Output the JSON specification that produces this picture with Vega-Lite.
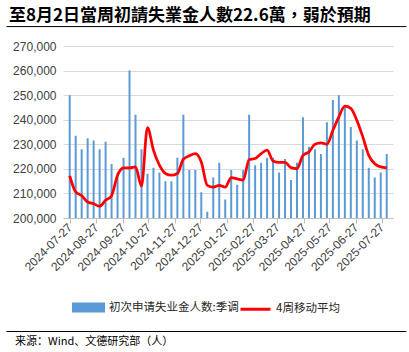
{
  "$schema": "https://vega.github.io/schema/vega-lite/v6.json",
  "width": 330,
  "height": 172,
  "autosize": {"type": "none"},
  "padding": {"left": 63, "top": 46, "right": 16, "bottom": 134},
  "background": "white",
  "title": {
    "text": "至8月2日當周初請失業金人數22.6萬，弱於預期",
    "anchor": "start",
    "frame": "group",
    "dx": -54,
    "offset": 1,
    "font": "Noto Sans CJK TC",
    "fontSize": 17,
    "fontWeight": "bold",
    "color": "#000000"
  },
  "config": {"view": {"stroke": null}, "font": "Liberation Sans"},
  "resolve": {"axis": {"x": "independent", "y": "independent"}},
  "data": {
    "values": [
      {"date": "2024/07/27", "claims": 250000, "ma4": 217100},
      {"date": "2024/08/03", "claims": 233500, "ma4": 210600},
      {"date": "2024/08/10", "claims": 228000, "ma4": 209100},
      {"date": "2024/08/17", "claims": 232500, "ma4": 206500},
      {"date": "2024/08/24", "claims": 231500, "ma4": 205800},
      {"date": "2024/08/31", "claims": 228000, "ma4": 204800},
      {"date": "2024/09/07", "claims": 231000, "ma4": 207200},
      {"date": "2024/09/14", "claims": 222000, "ma4": 209100},
      {"date": "2024/09/21", "claims": 218500, "ma4": 217400},
      {"date": "2024/09/28", "claims": 224500, "ma4": 220400},
      {"date": "2024/10/05", "claims": 260000, "ma4": 220400},
      {"date": "2024/10/12", "claims": 242000, "ma4": 220800},
      {"date": "2024/10/19", "claims": 228000, "ma4": 213000},
      {"date": "2024/10/26", "claims": 218000, "ma4": 236800},
      {"date": "2024/11/02", "claims": 220500, "ma4": 227600},
      {"date": "2024/11/09", "claims": 218500, "ma4": 221500},
      {"date": "2024/11/16", "claims": 215000, "ma4": 218100},
      {"date": "2024/11/23", "claims": 215000, "ma4": 217400},
      {"date": "2024/11/30", "claims": 224500, "ma4": 218100},
      {"date": "2024/12/07", "claims": 242000, "ma4": 223900},
      {"date": "2024/12/14", "claims": 219500, "ma4": 225300},
      {"date": "2024/12/21", "claims": 219500, "ma4": 226200},
      {"date": "2024/12/28", "claims": 210500, "ma4": 222800},
      {"date": "2025/01/04", "claims": 202500, "ma4": 213300},
      {"date": "2025/01/11", "claims": 216500, "ma4": 212600},
      {"date": "2025/01/18", "claims": 222500, "ma4": 213300},
      {"date": "2025/01/25", "claims": 207500, "ma4": 212600},
      {"date": "2025/02/01", "claims": 219500, "ma4": 216400},
      {"date": "2025/02/08", "claims": 213500, "ma4": 215900},
      {"date": "2025/02/15", "claims": 219500, "ma4": 215400},
      {"date": "2025/02/22", "claims": 242000, "ma4": 223800},
      {"date": "2025/03/01", "claims": 221500, "ma4": 224200},
      {"date": "2025/03/08", "claims": 222500, "ma4": 226200},
      {"date": "2025/03/15", "claims": 224500, "ma4": 227600},
      {"date": "2025/03/22", "claims": 224500, "ma4": 223200},
      {"date": "2025/03/29", "claims": 218500, "ma4": 222600},
      {"date": "2025/04/05", "claims": 224000, "ma4": 222600},
      {"date": "2025/04/12", "claims": 215500, "ma4": 220500},
      {"date": "2025/04/19", "claims": 222500, "ma4": 220100},
      {"date": "2025/04/26", "claims": 241000, "ma4": 225500},
      {"date": "2025/05/03", "claims": 229000, "ma4": 226900},
      {"date": "2025/05/10", "claims": 228000, "ma4": 230000},
      {"date": "2025/05/17", "claims": 226000, "ma4": 230600},
      {"date": "2025/05/24", "claims": 239000, "ma4": 230000},
      {"date": "2025/05/31", "claims": 248000, "ma4": 235700},
      {"date": "2025/06/07", "claims": 250000, "ma4": 241200},
      {"date": "2025/06/14", "claims": 245000, "ma4": 245500},
      {"date": "2025/06/21", "claims": 237000, "ma4": 244600},
      {"date": "2025/06/28", "claims": 231500, "ma4": 239800},
      {"date": "2025/07/05", "claims": 228000, "ma4": 233000},
      {"date": "2025/07/12", "claims": 220500, "ma4": 225500},
      {"date": "2025/07/19", "claims": 216500, "ma4": 222100},
      {"date": "2025/07/26", "claims": 218500, "ma4": 220800},
      {"date": "2025/08/02", "claims": 226000, "ma4": 220400}
    ]
  },
  "layer": [
    {
      "mark": {"type": "bar", "size": 2, "clip": true},
      "encoding": {
        "x": {
          "field": "date",
          "type": "temporal",
          "title": null,
          "scale": {"domain": [{"year": 2024, "month": 7, "date": 25}, {"year": 2025, "month": 8, "date": 3, "hours": 12}]},
          "axis": {
            "values": [
              {"year": 2024, "month": 7, "date": 27},
              {"year": 2024, "month": 8, "date": 27},
              {"year": 2024, "month": 9, "date": 27},
              {"year": 2024, "month": 10, "date": 27},
              {"year": 2024, "month": 11, "date": 27},
              {"year": 2024, "month": 12, "date": 27},
              {"year": 2025, "month": 1, "date": 27},
              {"year": 2025, "month": 2, "date": 27},
              {"year": 2025, "month": 3, "date": 27},
              {"year": 2025, "month": 4, "date": 27},
              {"year": 2025, "month": 5, "date": 27},
              {"year": 2025, "month": 6, "date": 27},
              {"year": 2025, "month": 7, "date": 27}
            ],
            "format": "%Y-%m-%d",
            "labelAngle": -45,
            "labelAlign": "right",
            "labelBaseline": "middle",
            "labelFontSize": 12,
            "labelColor": "#404040",
            "labelFont": "Liberation Sans",
            "labelPadding": 2,
            "labelOverlap": false,
            "labelFlush": false,
            "grid": false,
            "domainColor": "#BFBFBF",
            "tickColor": "#BFBFBF",
            "tickSize": 5
          }
        },
        "y": {
          "field": "claims",
          "type": "quantitative",
          "title": null,
          "scale": {"domain": [200000, 270000], "nice": false, "zero": false},
          "axis": {
            "values": [200000, 210000, 220000, 230000, 240000, 250000, 260000, 270000],
            "format": ",.0f",
            "grid": true,
            "gridColor": "#D9D9D9",
            "domain": false,
            "ticks": false,
            "labelPadding": 7,
            "labelFontSize": 12,
            "labelColor": "#404040",
            "labelFont": "Liberation Sans"
          }
        },
        "color": {
          "datum": "初次申请失业金人数:季调",
          "type": "nominal",
          "scale": {"domain": ["初次申请失业金人数:季调", "4周移动平均"], "range": ["#5B9BD5", "#FF0000"]},
          "legend": {
            "orient": "none",
            "legendX": 9,
            "legendY": 245,
            "direction": "horizontal",
            "title": null,
            "symbolSize": 900,
            "symbolType": "M-1,-0.233H1V0.233H-1Z",
            "labelFontSize": 11.5,
            "labelFont": "Noto Sans CJK SC",
            "labelColor": "#262626",
            "labelOffset": 4,
            "columnPadding": -10,
            "encode": {
              "symbols": {
                "update": {
                  "shape": {"signal": "datum.value === '4周移动平均' ? 'stroke' : 'M-1,-0.233H1V0.233H-1Z'"},
                  "fill": {"signal": "datum.value === '4周移动平均' ? 'transparent' : '#5B9BD5'"},
                  "stroke": {"signal": "datum.value === '4周移动平均' ? '#FF0000' : 'transparent'"},
                  "strokeWidth": {"value": 3},
                  "opacity": {"value": 1}
                }
              }
            }
          }
        }
      }
    },
    {
      "mark": {"type": "line", "interpolate": "monotone", "strokeWidth": 2.75},
      "encoding": {
        "x": {"field": "date", "type": "temporal", "title": null, "axis": null, "scale": {"domain": [{"year": 2024, "month": 7, "date": 25}, {"year": 2025, "month": 8, "date": 3, "hours": 12}]}},
        "y": {"field": "ma4", "type": "quantitative", "title": null, "axis": null, "scale": {"domain": [200000, 270000], "nice": false, "zero": false}},
        "color": {"datum": "4周移动平均", "type": "nominal", "scale": {"domain": ["初次申请失业金人数:季调", "4周移动平均"], "range": ["#5B9BD5", "#FF0000"]}}
      }
    },
    {
      "data": {"values": [{}]},
      "mark": {"type": "rule", "color": "#000000", "strokeWidth": 1},
      "encoding": {
        "x": {"datum": {"year": 2024, "month": 5, "date": 14}, "type": "temporal", "axis": null, "scale": {"domain": [{"year": 2024, "month": 7, "date": 25}, {"year": 2025, "month": 8, "date": 3, "hours": 12}]}},
        "x2": {"datum": {"year": 2025, "month": 8, "date": 25}},
        "y": {"datum": 277900, "type": "quantitative", "axis": null, "scale": {"domain": [200000, 270000], "nice": false, "zero": false}}
      }
    },
    {
      "data": {"values": [{}]},
      "mark": {"type": "rule", "color": "#000000", "strokeWidth": 1},
      "encoding": {
        "x": {"datum": {"year": 2024, "month": 5, "date": 14}, "type": "temporal", "axis": null, "scale": {"domain": [{"year": 2024, "month": 7, "date": 25}, {"year": 2025, "month": 8, "date": 3, "hours": 12}]}},
        "x2": {"datum": {"year": 2025, "month": 8, "date": 25}},
        "y": {"datum": 153800, "type": "quantitative", "axis": null, "scale": {"domain": [200000, 270000], "nice": false, "zero": false}}
      }
    },
    {
      "data": {"values": [{}]},
      "mark": {"type": "text", "text": "来源：Wind、文德研究部（人）", "align": "left", "baseline": "middle", "font": "Noto Sans CJK SC", "fontSize": 11, "color": "#000000"},
      "encoding": {
        "x": {"datum": {"year": 2024, "month": 5, "date": 24}, "type": "temporal", "axis": null, "scale": {"domain": [{"year": 2024, "month": 7, "date": 25}, {"year": 2025, "month": 8, "date": 3, "hours": 12}]}},
        "y": {"datum": 149500, "type": "quantitative", "axis": null, "scale": {"domain": [200000, 270000], "nice": false, "zero": false}}
      }
    }
  ]
}
